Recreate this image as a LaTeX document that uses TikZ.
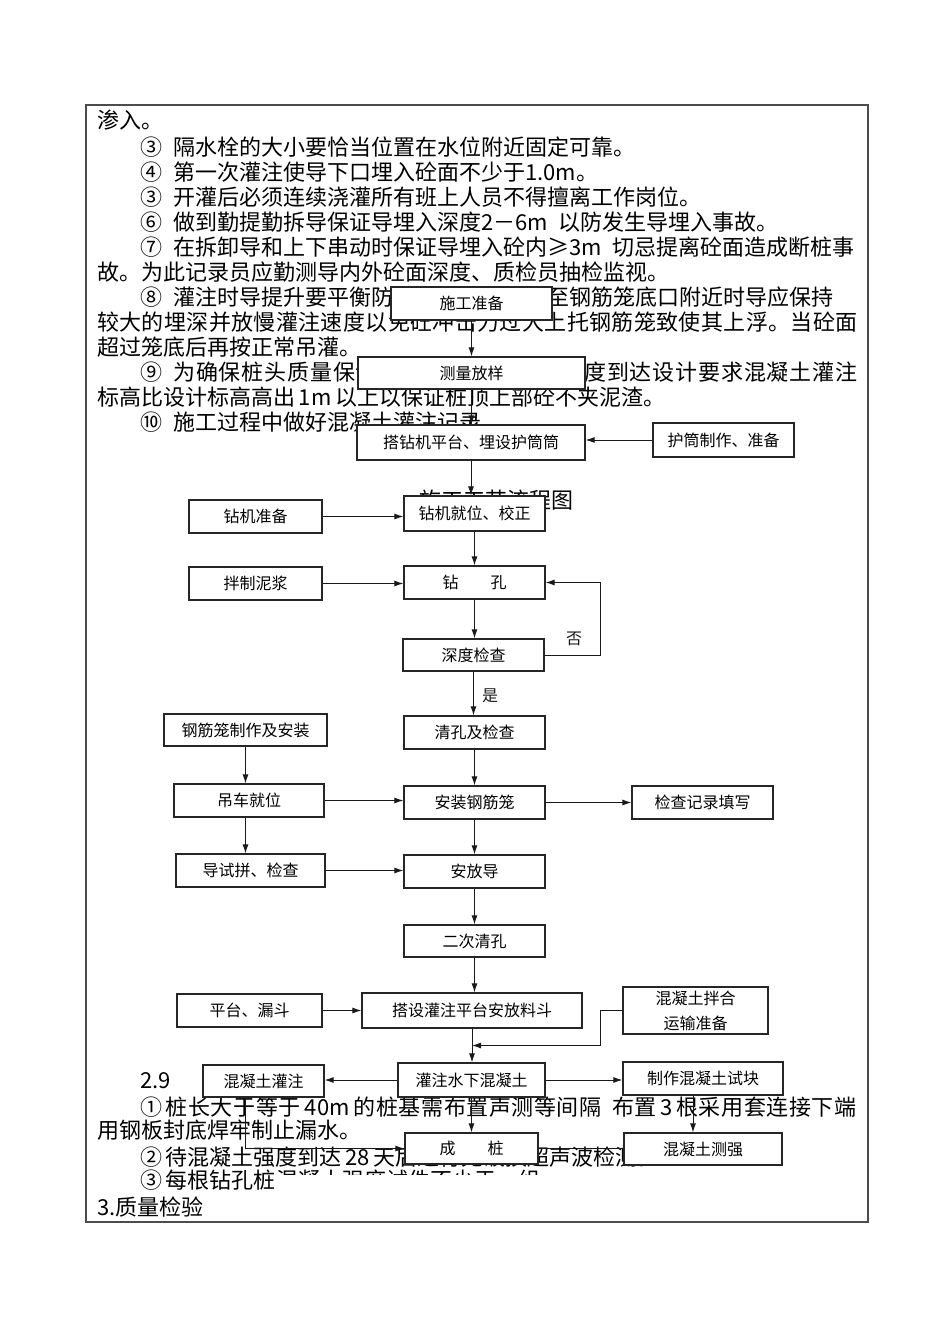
\documentclass[tikz,border=0pt]{standalone}
\usepackage{fontspec}
\setmainfont{Noto Sans CJK SC}
\usetikzlibrary{calc,arrows.meta}

\begin{document}
\begin{tikzpicture}[x=1pt,y=-1pt,
    box/.style={draw=black!85, line width=1.2pt, fill=white, inner sep=0pt,
      font=\fontsize{16}{22}\selectfont, minimum height=33},
    txt/.style={anchor=west, inner sep=0pt, font=\fontsize{22}{25}\selectfont,
      text height=19pt, text depth=3pt},
    spread/.style={txt, font=\fontsize{22}{25}\selectfont\addfontfeatures{LetterSpace=#1}},
    arr/.style={-{Latex[length=9pt,width=6pt]}, line width=1pt, black!90},
    lbl/.style={inner sep=0pt, font=\fontsize{16}{20}\selectfont}]
  \useasboundingbox (0,0) rectangle (950,1344);

  % frame of the table cell
  \draw[line width=1.6pt, black!70] (86,105) rectangle (868,1222);

  % body text
  \node[txt] (t1) at (97,120) {渗入。};
  \node[txt] (t2) at (140,147) {③\enspace 隔水栓的大小要恰当位置在水位附近固定可靠。};
  \node[txt] (t3) at (140,172) {④\enspace 第一次灌注使导下口埋入砼面不少于1.0m。};
  \node[txt] (t4) at (140,197) {③\enspace 开灌后必须连续浇灌所有班上人员不得擅离工作岗位。};
  \node[txt] (t5) at (140,222) {⑥\enspace 做到勤提勤拆导保证导埋入深度2－6m\enspace 以防发生导埋入事故。};
  \node[txt] (t6) at (140,247) {⑦\enspace 在拆卸导和上下串动时保证导埋入砼内≥3m\enspace 切忌提离砼面造成断桩事};
  \node[txt] (t7) at (97,272) {故。为此记录员应勤测导内外砼面深度、质检员抽检监视。};
  \node[txt] (t8) at (140,297) {⑧\enspace 灌注时导提升要平衡防止挂钢筋笼当砼至钢筋笼底口附近时导应保持};
  \node[spread=1.7] (t9) at (97,322) {较大的埋深并放慢灌注速度以免砼冲击力过大上托钢筋笼致使其上浮。当砼面};
  \node[txt] (t10) at (97,347) {超过笼底后再按正常吊灌。};
  \node[spread=3.8] (t11) at (140,372) {⑨\enspace 为确保桩头质量保证桩顶标高处混凝土强度到达设计要求混凝土灌注};
  \node[txt] (t12) at (97,397) {标高比设计标高高出\,1m\,以上以保证桩顶上部砼不夹泥渣。};
  \node[txt] (t13) at (140,422) {⑩\enspace 施工过程中做好混凝土灌注记录};
  \node[txt, anchor=center] (title) at (496,500) {施工工艺流程图};
  \node[txt] (t14) at (140,1080) {2.9};
  \node[spread=2.5] (t15) at (140,1107) {①\,桩长大于等于\,40m\,的桩基需布置声测等间隔\enspace 布置\,3\,根采用套连接下端};
  \node[txt] (t16) at (97,1130) {用钢板封底焊牢制止漏水。};
  \node[txt] (t17) at (140,1157) {②\,待混凝土强度到达\,28\,天后进行无破损超声波检测。};
  \node[txt] (t18) at (140,1180) {③\,每根钻孔桩};
  \begin{scope}
    \clip (260,1160) rectangle (620,1174);
    \node[txt] (t18b) at (t18.east) {混凝土强度试件不少于一组};
  \end{scope}
  \node[txt] (t19) at (97,1207) {3.质量检验};

  % flow chart boxes
  \node[box, minimum width=161] (prep) at (471.5,303.5) {施工准备};
  \node[box, minimum width=227, minimum height=32] (survey) at (471.5,373) {测量放样};
  \node[box, minimum width=228, minimum height=35] (platform) at (471,442.5) {搭钻机平台、埋设护筒筒};
  \node[box, minimum width=141, minimum height=34] (casing) at (723.5,440) {护筒制作、准备};
  \node[box, minimum width=133] (rigprep) at (255.5,516.5) {钻机准备};
  \node[box, minimum width=141, minimum height=35] (rigpos) at (474.5,513.5) {钻机就位、校正};
  \node[box, minimum width=133] (mud) at (255.5,583.5) {拌制泥浆};
  \node[box, minimum width=141] (drill) at (474.5,582.5) {钻\hspace{2em}孔};
  \node[box, minimum width=141, minimum height=32] (depth) at (473.5,655) {深度检查};
  \node[box, minimum width=141] (clean) at (474.5,732.5) {清孔及检查};
  \node[box, minimum width=163, minimum height=32] (cagemake) at (245.5,730) {钢筋笼制作及安装};
  \node[box, minimum width=150] (crane) at (249,800.5) {吊车就位};
  \node[box, minimum width=141] (cage) at (474.5,802.5) {安装钢筋笼};
  \node[box, minimum width=141] (record) at (702.5,802.5) {检查记录填写};
  \node[box, minimum width=149] (pipetest) at (250.5,870.5) {导试拼、检查};
  \node[box, minimum width=141] (pipe) at (474.5,871.5) {安放导};
  \node[box, minimum width=141, minimum height=32] (clean2) at (474.5,941) {二次清孔};
  \node[box, minimum width=145] (hopper) at (249.5,1010.5) {平台、漏斗};
  \node[box, minimum width=220, minimum height=35] (pour) at (472,1010.5) {搭设灌注平台安放料斗};
  \node[box, minimum width=145, minimum height=47, align=center,
    font=\fontsize{16}{25}\selectfont] (mix) at (695.5,1010.5) {混凝土拌合\\运输准备};
  \node[box, minimum width=147, minimum height=34] (under) at (471.5,1080) {灌注水下混凝土};
  \node[box, minimum width=121, minimum height=32] (conc) at (263.5,1081) {混凝土灌注};
  \node[box, minimum width=160] (sample) at (703,1078.5) {制作混凝土试块};
  \node[box, minimum width=133, minimum height=31] (pile) at (471.5,1148.5) {成\hspace{2em}桩};
  \node[box, minimum width=158, minimum height=32] (strength) at (703,1149) {混凝土测强};

  % connectors
  \draw[arr] (prep.south) -- (prep.south |- survey.north);
  \draw[arr] (survey.south) -- (survey.south |- platform.north);
  \draw[arr] (casing.west) -- (casing.west -| platform.east);
  \draw[arr] (platform.south) -- (platform.south |- rigpos.north);
  \draw[arr] (rigprep.east) -- (rigprep.east -| rigpos.west);
  \draw[arr] (rigpos.south) -- (rigpos.south |- drill.north);
  \draw[arr] (mud.east) -- (mud.east -| drill.west);
  \draw[arr] (drill.south) -- (drill.south |- depth.north);
  \draw[arr] (depth.east) -- ++(56,0) |- node[lbl, pos=0.11, left=18pt] {否} (drill.east);
  \draw[arr] (depth.south) -- node[lbl, pos=0.55, right=8pt] {是} (depth.south |- clean.north);
  \draw[arr] (clean.south) -- (clean.south |- cage.north);
  \draw[arr] (cagemake.south) -- (cagemake.south |- crane.north);
  \draw[arr] (crane.east) -- (crane.east -| cage.west);
  \draw[arr] (cagemake.south |- crane.south) -- (cagemake.south |- pipetest.north);
  \draw[arr] (cage.east) -- (cage.east -| record.west);
  \draw[arr] (cage.south) -- (cage.south |- pipe.north);
  \draw[arr] (pipetest.east) -- (pipetest.east -| pipe.west);
  \draw[arr] (pipe.south) -- (pipe.south |- clean2.north);
  \draw[arr] (clean2.south) -- (clean2.south |- pour.north);
  \draw[arr] (hopper.east) -- (hopper.east -| pour.west);
  \draw[arr] (pour.south) -- (pour.south |- under.north);
  \coordinate (joint) at ($(pour.south)!0.5!(pour.south |- under.north)$);
  \draw[arr] (mix.west) -- ++(-22,0) |- (joint);
  \draw[arr] (under.west) -- (under.west -| conc.east);
  \draw[arr] (under.east) -- (under.east -| sample.west);
  \draw[arr] (under.south) -- (under.south |- pile.north);
  \draw[arr] ([xshift=-18pt]conc.south) |- (pile.west);
  \draw[arr] ([xshift=-10pt]sample.south) -- ([xshift=-10pt]sample.south |- strength.north);
  \draw[line width=1pt, black!90] (pile.east) -- (pile.east -| strength.west);
\end{tikzpicture}
\end{document}
